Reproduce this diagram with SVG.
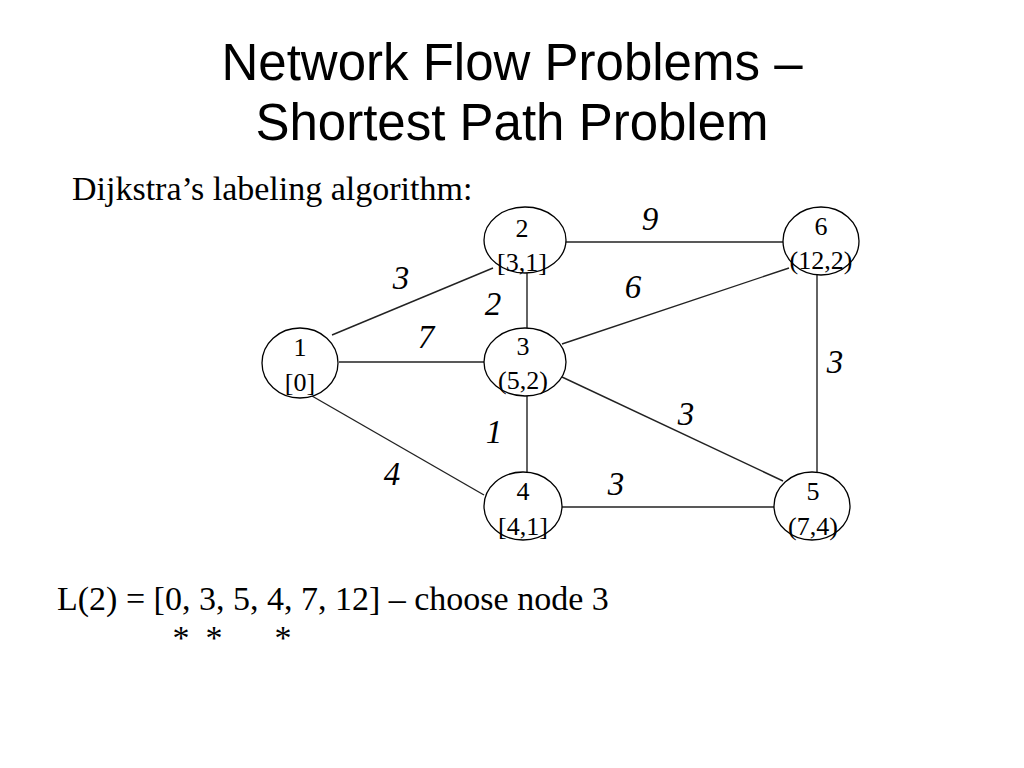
<svg xmlns="http://www.w3.org/2000/svg" width="1024" height="768" viewBox="0 0 1024 768">
<style>
.title{font-family:"Liberation Sans",Arial,sans-serif;font-size:51px;fill:#000;text-anchor:middle}
.txt{font-family:"Liberation Serif","Times New Roman",serif;font-size:34px;fill:#000}
.nl{font-family:"Liberation Serif","Times New Roman",serif;font-size:26px;fill:#000;text-anchor:middle}
.el{font-family:"Liberation Serif","Times New Roman",serif;font-size:33px;font-style:italic;fill:#000;text-anchor:middle}
.node ellipse{fill:#fff;stroke:#000;stroke-width:1.3}
#edges line{stroke:#222;stroke-width:1.4}
</style>
<rect width="1024" height="768" fill="#fff"/>
<text class="title" x="512" y="80">Network Flow Problems –</text>
<text class="title" x="512" y="140">Shortest Path Problem</text>
<text class="txt" x="72" y="200">Dijkstra’s labeling algorithm:</text>
<g id="edges">
<line x1="332" y1="335" x2="493" y2="268"/>
<line x1="339" y1="362" x2="484" y2="362"/>
<line x1="312" y1="396" x2="484" y2="495"/>
<line x1="527" y1="273" x2="527" y2="328"/>
<line x1="566" y1="242" x2="783" y2="242"/>
<line x1="562" y1="344" x2="789" y2="268"/>
<line x1="817" y1="275" x2="817" y2="473"/>
<line x1="562" y1="377" x2="783" y2="481"/>
<line x1="527" y1="396" x2="527" y2="472"/>
<line x1="562" y1="507" x2="774" y2="507"/>
</g>
<g id="edge-labels">
<text class="el" x="650" y="230">9</text>
<text class="el" x="401" y="289">3</text>
<text class="el" x="493" y="315">2</text>
<text class="el" x="633" y="298">6</text>
<text class="el" x="426" y="348">7</text>
<text class="el" x="835" y="373">3</text>
<text class="el" x="686" y="425">3</text>
<text class="el" x="494" y="443">1</text>
<text class="el" x="392" y="485">4</text>
<text class="el" x="616" y="495">3</text>
</g>
<g id="node1" class="node"><ellipse cx="300" cy="363" rx="38" ry="35"/><text class="nl" x="300" y="356">1</text><text class="nl" x="300" y="391">[0]</text></g>
<g id="node2" class="node"><ellipse cx="525" cy="240" rx="41" ry="33"/><text class="nl" x="522" y="237">2</text><text class="nl" x="522" y="271">[3,1]</text></g>
<g id="node3" class="node"><ellipse cx="525" cy="362" rx="41" ry="34"/><text class="nl" x="523" y="355">3</text><text class="nl" x="523" y="389">(5,2)</text></g>
<g id="node4" class="node"><ellipse cx="523" cy="506" rx="39" ry="34"/><text class="nl" x="523" y="500">4</text><text class="nl" x="523" y="535">[4,1]</text></g>
<g id="node5" class="node"><ellipse cx="812" cy="506" rx="38" ry="34"/><text class="nl" x="813" y="500">5</text><text class="nl" x="813" y="535">(7,4)</text></g>
<g id="node6" class="node"><ellipse cx="821" cy="241" rx="38" ry="34"/><text class="nl" x="821" y="235">6</text><text class="nl" x="821" y="269">(12,2)</text></g>
<text class="txt" x="57" y="610">L(2) = [0, 3, 5, 4, 7, 12] – choose node 3</text>
<text class="txt" x="181" y="649" text-anchor="middle">*</text>
<text class="txt" x="214" y="649" text-anchor="middle">*</text>
<text class="txt" x="283" y="649" text-anchor="middle">*</text>
</svg>
